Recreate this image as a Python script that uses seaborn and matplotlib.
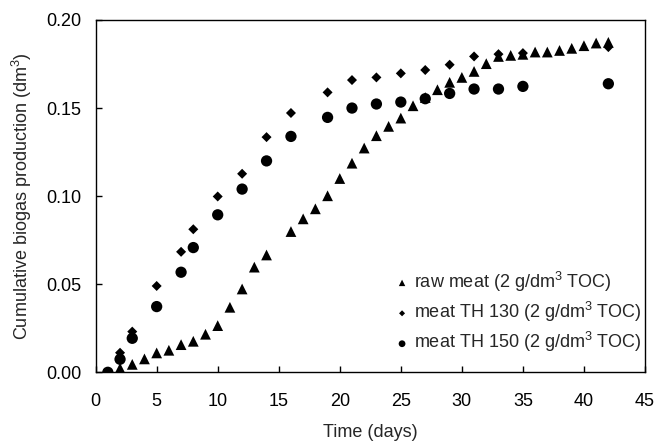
import pandas as pd
import matplotlib
matplotlib.use('Agg')
import matplotlib.pyplot as plt
import seaborn as sns

# Cumulative biogas production
raw_days = [1, 2, 3, 4, 5, 6, 7, 8, 9, 10, 11, 12, 13, 14, 16, 17, 18, 19, 20, 21,
            22, 23, 24, 25, 26, 27, 28, 29, 30, 31, 32, 33, 34, 35, 36, 37, 38, 39, 40, 41, 42]
raw_gas = [0.000, 0.0023, 0.0045, 0.0076, 0.011, 0.0125, 0.0157, 0.0176, 0.0216, 0.0265,
           0.0369, 0.0473, 0.0597, 0.0666, 0.0799, 0.0871, 0.0928, 0.1002, 0.110, 0.1187,
           0.1273, 0.1343, 0.1396, 0.1443, 0.1513, 0.1560, 0.1604, 0.1646, 0.1674, 0.1708,
           0.1752, 0.1793, 0.1799, 0.1805, 0.1818, 0.1818, 0.1827, 0.1839, 0.1854, 0.1869, 0.1873]

th130_days = [1, 2, 3, 5, 7, 8, 10, 12, 14, 16, 19, 21, 23, 25, 27, 29, 31, 33, 35, 42]
th130_gas = [0.000, 0.0111, 0.0231, 0.049, 0.0684, 0.0812, 0.0998, 0.1127, 0.1335, 0.1472,
             0.1589, 0.1659, 0.1674, 0.1697, 0.1716, 0.1746, 0.1793, 0.1806, 0.1812, 0.1846]

th150_days = [1, 2, 3, 5, 7, 8, 10, 12, 14, 16, 19, 21, 23, 25, 27, 29, 31, 33, 35, 42]
th150_gas = [0.000, 0.0074, 0.0193, 0.0373, 0.0568, 0.0708, 0.0894, 0.104, 0.120, 0.1339,
             0.1447, 0.150, 0.1523, 0.1534, 0.1553, 0.1583, 0.1608, 0.1608, 0.1623, 0.1638]

labels = ['raw meat (2 g/dm$^3$ TOC)', 'meat TH 130 (2 g/dm$^3$ TOC)', 'meat TH 150 (2 g/dm$^3$ TOC)']

raw = pd.DataFrame({'Day': raw_days, 'Gas': raw_gas})
th130 = pd.DataFrame({'Day': th130_days, 'Gas': th130_gas})
th150 = pd.DataFrame({'Day': th150_days, 'Gas': th150_gas})

sns.set_style('ticks')
plt.rcParams['font.family'] = ['Liberation Sans', 'DejaVu Sans']
plt.rcParams['mathtext.fontset'] = 'custom'
plt.rcParams['mathtext.rm'] = 'Liberation Sans'

fs = 13

fig = plt.figure(figsize=(6.55, 4.43), dpi=100)
ax = fig.add_axes([0.146, 0.1596, 0.8387, 0.7953])

sns.scatterplot(x='Day', y='Gas', data=raw, marker='^', s=60, color='black',
                edgecolor='none', label=labels[0], ax=ax)
sns.scatterplot(x='Day', y='Gas', data=th130, marker='D', s=26, color='black',
                edgecolor='none', label=labels[1], ax=ax)
sns.scatterplot(x='Day', y='Gas', data=th150, marker='o', s=66, color='black',
                edgecolor='none', label=labels[2], ax=ax)

ax.set_xlim(0, 45)
ax.set_ylim(0, 0.2)
ax.set_xticks(range(0, 46, 5))
ax.set_yticks([0, 0.05, 0.10, 0.15, 0.20])
ax.set_yticklabels(['0.00', '0.05', '0.10', '0.15', '0.20'])
ax.tick_params(direction='in', length=4, width=1, labelsize=fs, colors='black')
ax.tick_params(axis='y', pad=10)
ax.tick_params(axis='x', pad=15)
for sp in ax.spines.values():
    sp.set_linewidth(1.0)
    sp.set_color('black')

ax.set_xlabel('Time (days)', fontsize=fs, labelpad=10)
ax.set_ylabel('Cumulative biogas production (dm$^3$)', fontsize=fs, labelpad=9)

ax.legend(loc='lower right', bbox_to_anchor=(1.01, 0.025), frameon=False, fontsize=fs,
          markerscale=0.6, handlelength=0.6, handletextpad=0.35, labelspacing=0.35,
          borderaxespad=0.1)

fig.savefig('out.png', dpi=100)
